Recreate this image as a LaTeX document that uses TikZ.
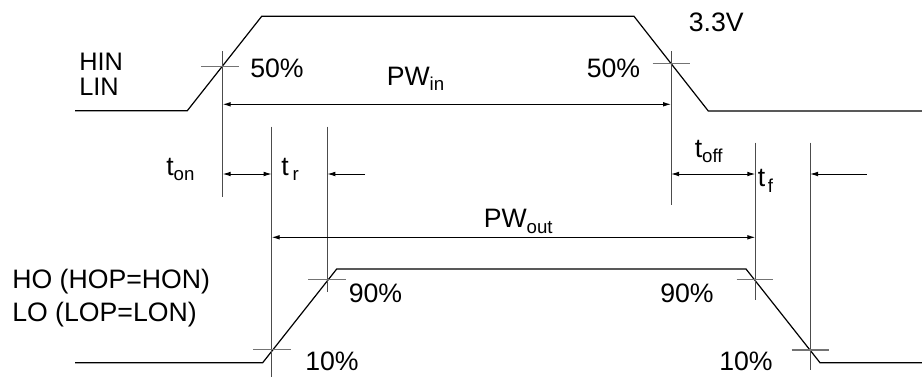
\documentclass[tikz,border=0pt]{standalone}
\usepackage{fontspec}
\setmainfont{Liberation Sans}
\usetikzlibrary{arrows.meta}
\newcommand\lowsub[1]{\raisebox{-4pt}{\fontsize{14}{14}\selectfont #1}}
\begin{document}
\begin{tikzpicture}[x=0.75pt,y=-0.75pt,
  wave/.style={line width=0.9pt, line join=miter},
  guide/.style={line width=0.7pt, draw=black!70},
  tick/.style={line width=0.8pt, draw=black!55},
  tipL/.style={-{Latex[length=6pt,width=3.5pt]}},
  dim/.style={line width=0.7pt, {Latex[length=6pt,width=3.5pt]}-{Latex[length=6pt,width=3.5pt]}},
  onedim/.style={line width=0.7pt, -{Latex[length=6pt,width=3.5pt]}},
  lbl/.style={anchor=base west, inner sep=0pt, font=\fontsize{20}{24}\selectfont}]
\useasboundingbox (0,0) rectangle (922,379);

% input waveform
\coordinate (i0) at (75,110.7);
\coordinate (i1) at (187.3,110.7);
\coordinate (i2) at (261.7,16.3);
\coordinate (i3) at (634,16.3);
\coordinate (i4) at (708.3,111);
\coordinate (i5) at (922,111);
\draw[wave] (i0) -- (i1) -- (i2) -- (i3) -- (i4) -- (i5);

% output waveform
\coordinate (o0) at (75,362.7);
\coordinate (o1) at (262.7,362.7);
\coordinate (o2) at (336.7,269);
\coordinate (o3) at (746,269);
\coordinate (o4) at (820,362.7);
\coordinate (o5) at (922,362.7);
\draw[wave] (o0) -- (o1) -- (o2) -- (o3) -- (o4) -- (o5);

% vertical guides
\coordinate (va1) at (222.7,51);   \coordinate (va2) at (222.7,196.7);
\coordinate (vb1) at (271.7,126.7); \coordinate (vb2) at (271.7,376.7);
\coordinate (vc1) at (327.3,126.7); \coordinate (vc2) at (327.3,291.7);
\coordinate (vd1) at (671,51);     \coordinate (vd2) at (671,205);
\coordinate (ve1) at (755.3,142.7); \coordinate (ve2) at (755.3,300);
\coordinate (vf1) at (810,142.7);  \coordinate (vf2) at (810,370);
\draw[guide] (va1) -- (va2);
\draw[guide] (vb1) -- (vb2);
\draw[guide] (vc1) -- (vc2);
\draw[guide] (vd1) -- (vd2);
\draw[guide] (ve1) -- (ve2);
\draw[guide] (vf1) -- (vf2);

% crosshair ticks
\coordinate (ta1) at (201,66.7);   \coordinate (ta2) at (238.7,66.7);
\coordinate (tb1) at (652.7,63.3); \coordinate (tb2) at (690,63.3);
\coordinate (tc1) at (253.3,349.3); \coordinate (tc2) at (290.7,349.3);
\coordinate (td1) at (308.3,279.3); \coordinate (td2) at (346,279.3);
\coordinate (te1) at (736.7,279.3); \coordinate (te2) at (773.3,279.3);
\coordinate (tf1) at (791.7,350);  \coordinate (tf2) at (829.3,350);
\draw[tick] (ta1) -- (ta2);
\draw[tick] (tb1) -- (tb2);
\draw[tick] (tc1) -- (tc2);
\draw[tick] (td1) -- (td2);
\draw[tick] (te1) -- (te2);
\draw[tick] (tf1) -- (tf2);

% dimension arrows
\coordinate (pwi1) at (222.7,104.3); \coordinate (pwi2) at (671,104.3);
\draw[dim] (pwi1) -- (pwi2);
\coordinate (pwo1) at (271.7,237.3); \coordinate (pwo2) at (755.3,237.3);
\draw[dim] (pwo1) -- (pwo2);
\coordinate (ton1) at (222.7,174); \coordinate (ton2) at (271.7,174);
\draw[dim] (ton1) -- (ton2);
\coordinate (tr1) at (365,174); \coordinate (tr2) at (327.3,174);
\draw[onedim] (tr1) -- (tr2);
\coordinate (toff1) at (671,174); \coordinate (toff2) at (755.3,174);
\draw[dim] (toff1) -- (toff2);
\coordinate (tf1a) at (866.7,174); \coordinate (tf2a) at (810,174);
\draw[onedim] (tf1a) -- (tf2a);

% labels
\node[lbl, font=\fontsize{19}{23}\selectfont] (hin) at (79,70) {HIN};
\node[lbl, font=\fontsize{19}{23}\selectfont] (lin) at (79,95) {LIN};
\node[lbl] (ho) at (12,288.3) {HO (HOP=HON)};
\node[lbl] (lo) at (12,321.7) {LO (LOP=LON)};
\node[lbl] (p50a) at (250,77) {50\%};
\node[lbl] (p50b) at (586.5,77) {50\%};
\node[lbl] (pwin) at (386.5,85) {PW\lowsub{in}};
\node[lbl] (v33) at (688.5,31.7) {3.3V};
\node[lbl] (ton) at (166,175) {t\lowsub{on}};
\node[lbl] (tr) at (281,175) {t\hspace{3pt}\lowsub{r}};
\node[lbl] (toff) at (694.5,157) {t\lowsub{off}};
\node[lbl] (tf) at (757.5,186.7) {t\hspace{2pt}\lowsub{f}};
\node[lbl] (pwout) at (483.5,227.7) {PW\lowsub{out}};
\node[lbl] (p90a) at (348.5,302.7) {90\%};
\node[lbl] (p10a) at (305,370.7) {10\%};
\node[lbl] (p90b) at (660,302.7) {90\%};
\node[lbl] (p10b) at (719,370.7) {10\%};
\end{tikzpicture}
\end{document}
